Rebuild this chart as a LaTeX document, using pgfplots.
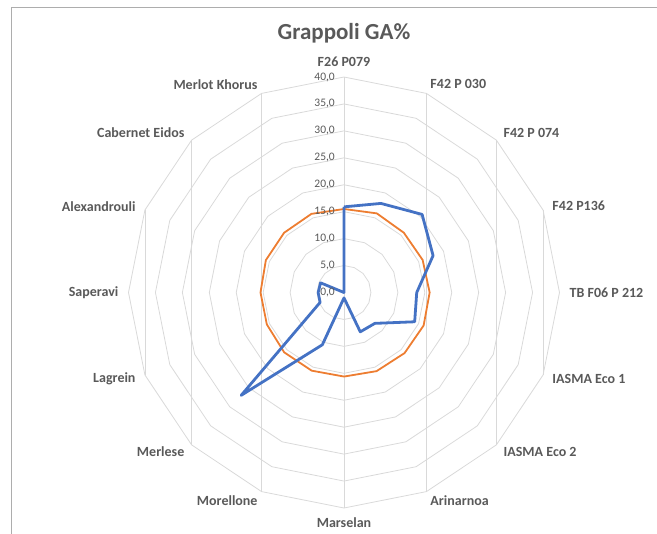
\documentclass[border=0pt]{standalone}
\usepackage{fontspec}
\setmainfont{Carlito}
\usepackage{pgfplots}
\usepackage{pgfplotstable}
\pgfplotsset{compat=1.18}
\usepgfplotslibrary{polar}
\definecolor{xlblue}{HTML}{4472C4}
\definecolor{xlorange}{HTML}{ED7D31}
\definecolor{gridgray}{HTML}{D9D9D9}
\definecolor{txtgray}{HTML}{595959}
\definecolor{framegray}{HTML}{ADADAD}

\tikzset{
  catlabel/.style={font=\fontsize{14bp}{16bp}\selectfont\bfseries, text=txtgray, inner sep=0pt},
  ticklabel/.style={font=\fontsize{11.5bp}{13bp}\selectfont, text=txtgray, inner sep=0pt, anchor=east, xshift=-9bp},
}

% angle = 90 - 22.5*i (clockwise from top); last row closes the polygon
\pgfplotstableread{
angle  blue  orange
90     15.9  15.5
67.5   17.9  15.9
45     20.5  15.7
22.5   17.9  15.8
0      13.5  15.9
-22.5  14.2  16.0
-45    8.1   15.9
-67.5  7.9   15.8
-90    1.0   15.6
-112.5 10.5  15.7
-135   27.0  15.7
-157.5 4.8   15.5
-180   4.8   15.5
-202.5 4.7   15.7
-225   0.0   15.7
-247.5 0.0   15.8
-270   15.9  15.5
}\radar

\begin{document}
\begin{tikzpicture}
\useasboundingbox (0,0) rectangle (657bp,-534bp);
\draw[framegray, line width=1bp] (11bp,-534bp) -- (11bp,-7bp) -- (657bp,-7bp);
\begin{polaraxis}[
    at={(344bp,-292.5bp)}, anchor=center,
    width=431bp, height=431bp, scale only axis,
    xmin=0, xmax=360, ymin=0, ymax=40,
    hide axis, clip=false,
]
\pgfplotsinvokeforeach{5,10,15,20,25,30,35,40}{
  \addplot[gridgray, line width=0.8bp, no marks] table[x=angle, y expr=#1] {\radar};
}
\addplot[gridgray, line width=0.8bp, ycomb, no marks] table[x=angle, y expr=40] {\radar};

\addplot[xlorange, line width=1.8bp, no marks, line join=round] table[x=angle, y=orange] {\radar};
\addplot[xlblue, line width=2.8bp, no marks, line join=round] table[x=angle, y=blue] {\radar};

\node[ticklabel] at (axis cs:90,0)  {0,0};
\node[ticklabel] at (axis cs:90,5)  {5,0};
\node[ticklabel] at (axis cs:90,10) {10,0};
\node[ticklabel] at (axis cs:90,15) {15,0};
\node[ticklabel] at (axis cs:90,20) {20,0};
\node[ticklabel] at (axis cs:90,25) {25,0};
\node[ticklabel] at (axis cs:90,30) {30,0};
\node[ticklabel] at (axis cs:90,35) {35,0};
\node[ticklabel] at (axis cs:90,40) {40,0};

\node[catlabel, anchor=south] at (axis cs:90,41.85)     {F26 P079};
\node[catlabel, anchor=west]  at (axis cs:67.5,41.85)   {F42 P 030};
\node[catlabel, anchor=west]  at (axis cs:45,41.85)     {F42 P 074};
\node[catlabel, anchor=west]  at (axis cs:22.5,41.85)   {F42 P136};
\node[catlabel, anchor=west]  at (axis cs:0,41.85)      {TB F06 P 212};
\node[catlabel, anchor=west]  at (axis cs:-22.5,41.85)  {IASMA Eco 1};
\node[catlabel, anchor=west]  at (axis cs:-45,41.85)    {IASMA Eco 2};
\node[catlabel, anchor=west]  at (axis cs:-67.5,41.85)  {Arinarnoa};
\node[catlabel, anchor=north] at (axis cs:-90,41.85)    {Marselan};
\node[catlabel, anchor=east]  at (axis cs:-112.5,41.85) {Morellone};
\node[catlabel, anchor=east]  at (axis cs:-135,41.85)   {Merlese};
\node[catlabel, anchor=east]  at (axis cs:-157.5,41.85) {Lagrein};
\node[catlabel, anchor=east]  at (axis cs:-180,41.85)   {Saperavi};
\node[catlabel, anchor=east]  at (axis cs:-202.5,41.85) {Alexandrouli};
\node[catlabel, anchor=east]  at (axis cs:-225,41.85)   {Cabernet Eidos};
\node[catlabel, anchor=east]  at (axis cs:-247.5,41.85) {Merlot Khorus};
\end{polaraxis}
\node[font=\fontsize{23bp}{26bp}\selectfont\bfseries, text=txtgray] at (344bp,-33bp) {Grappoli GA\%};
\end{tikzpicture}
\end{document}
